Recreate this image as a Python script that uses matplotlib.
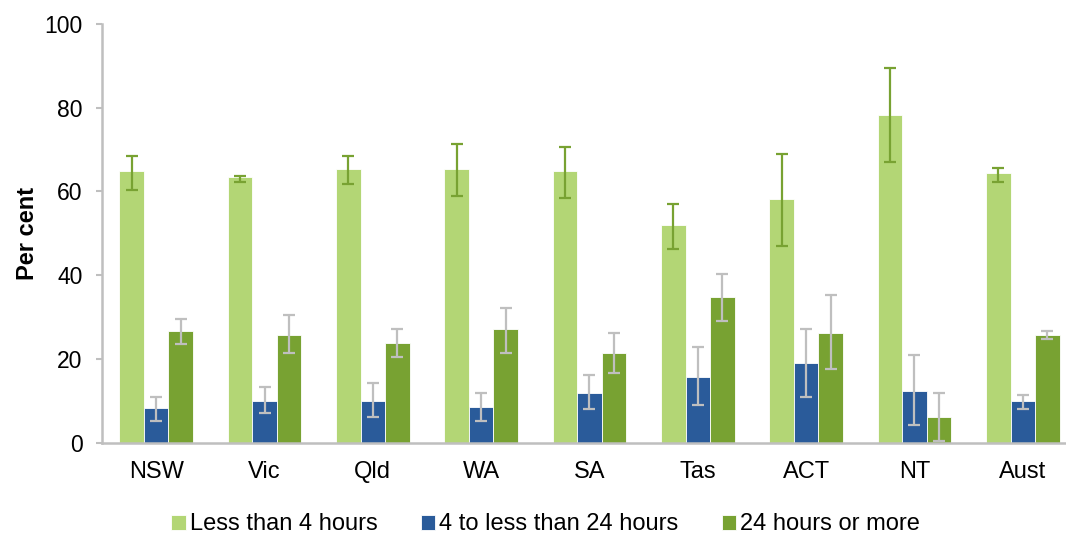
import matplotlib
matplotlib.use("Agg")
import matplotlib.pyplot as plt
import numpy as np

plt.rcParams['font.family'] = ['Liberation Sans', 'DejaVu Sans']

categories = ["NSW", "Vic", "Qld", "WA", "SA", "Tas", "ACT", "NT", "Aust"]
series_names = ["Less than 4 hours", "4 to less than 24 hours", "24 hours or more"]

less4 = [64.8, 63.4, 65.3, 65.3, 64.8, 51.9, 58.1, 78.2, 64.3]
less4_lo = [60.4, 62.3, 61.9, 59.0, 58.5, 46.2, 47.1, 67.0, 62.3]
less4_hi = [68.5, 63.8, 68.5, 71.3, 70.5, 57.1, 69.0, 89.5, 65.7]

mid = [8.3, 10.1, 10.1, 8.7, 11.9, 15.8, 19.1, 12.4, 10.1]
mid_lo = [5.2, 7.1, 6.2, 5.2, 8.1, 9.0, 10.9, 4.2, 8.1]
mid_hi = [10.9, 13.3, 14.3, 11.9, 16.2, 22.8, 27.1, 20.9, 11.4]

more24 = [26.8, 25.8, 23.9, 27.2, 21.5, 34.9, 26.3, 6.3, 25.8]
more24_lo = [23.7, 21.4, 20.5, 21.4, 16.6, 29.0, 17.6, 0.4, 24.7]
more24_hi = [29.5, 30.5, 27.1, 32.3, 26.2, 40.4, 35.2, 11.9, 26.7]

colors = ["#B3D675", "#2A5B9A", "#78A232"]
err_colors = ["#78A232", "#BFBFBF", "#BFBFBF"]

fig = plt.figure(figsize=(10.66, 5.34), dpi=100)
ax = fig.add_axes([0.0957, 0.1704, 0.9146, 0.785])

x = np.arange(len(categories))
w = 0.226
data = [(less4, less4_lo, less4_hi), (mid, mid_lo, mid_hi), (more24, more24_lo, more24_hi)]
handles = []
for i, (vals, lo, hi) in enumerate(data):
    vals = np.array(vals); lo = np.array(lo); hi = np.array(hi)
    pos = x + (i - 1) * w
    b = ax.bar(pos, vals, width=w, color=colors[i], edgecolor='white', linewidth=0.6,
               label=series_names[i], zorder=2)
    ax.errorbar(pos, vals, yerr=[vals - lo, hi - vals], fmt='none', ecolor=err_colors[i],
                elinewidth=1.6, capsize=4.3, capthick=1.6, zorder=3)
    handles.append(b)

ax.set_xlim(-0.5, len(categories) - 0.5)
ax.set_ylim(0, 100)
ax.set_yticks([0, 20, 40, 60, 80, 100])
ax.set_xticks(x)
ax.set_xticklabels(categories)
ax.tick_params(axis='y', labelsize=16.5, colors='#BFBFBF', labelcolor='black', length=4, width=1.5, pad=10)
ax.tick_params(axis='x', labelsize=17, length=0, pad=13)
for s in ['top', 'right']:
    ax.spines[s].set_visible(False)
for s in ['left', 'bottom']:
    ax.spines[s].set_color('#BFBFBF')
    ax.spines[s].set_linewidth(1.8)
ax.spines['bottom'].set_zorder(4)

ax.set_ylabel("Per cent", fontsize=17, fontweight='bold', labelpad=4)

fig.legend(handles=handles, labels=series_names, loc='center', bbox_to_anchor=(0.512, 0.018),
           ncol=3, frameon=False, fontsize=17, handlelength=0.6, handleheight=0.6,
           handletextpad=0.17, columnspacing=1.85, borderpad=0)

fig.savefig("out.png", dpi=100)
